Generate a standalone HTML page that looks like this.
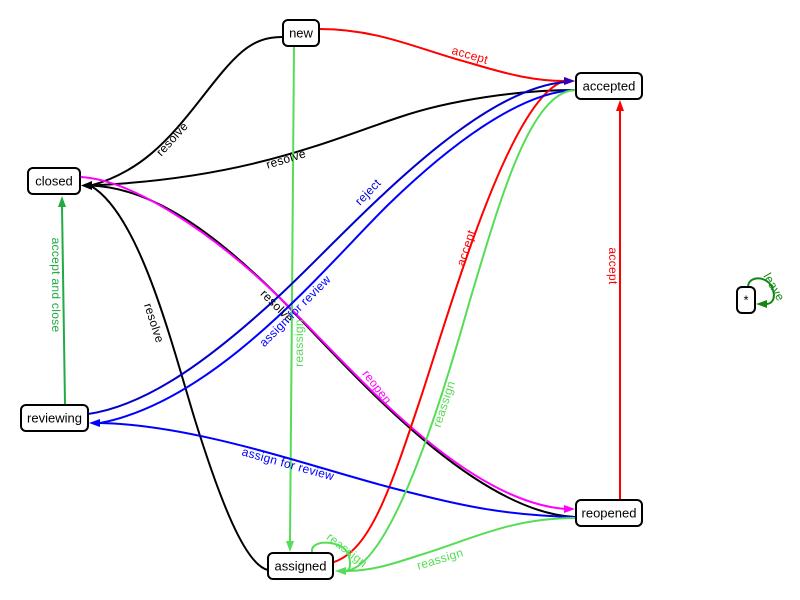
<!DOCTYPE html>
<html><head><meta charset="utf-8"><style>
html,body{margin:0;padding:0;background:#fff;}
svg{display:block;}
text{font-family:"Liberation Sans",sans-serif;}
.lbl{font-size:12px;text-anchor:middle;dominant-baseline:central;letter-spacing:0.3px;}
.nd{font-size:13px;text-anchor:middle;dominant-baseline:central;fill:#000;}
.e{fill:none;stroke-width:2;}
</style></head><body>
<svg width="800" height="600" viewBox="0 0 800 600" xmlns="http://www.w3.org/2000/svg">
<rect width="800" height="600" fill="#fff"/>
<!-- black resolve edges -->
<path class="e" stroke="#000" d="M282,37 C250,37 235,55 200,100 C168,141 140,172 91,185.5"/>
<path class="e" stroke="#000" d="M575,90 C520,90 450,100 400,117 C330,140 250,178 91,185.5"/>
<path class="e" stroke="#000" d="M575,517 C472,512 350,370 280,298 C210,228 150,188 91,185.5"/>
<path class="e" stroke="#000" d="M268,570 C245,565 220,500 195,420 C172,345 140,215 91,186"/>
<polygon points="81,185.5 92,181 92,190" fill="#000"/>
<!-- magenta reopen -->
<path class="e" stroke="#ff00ff" d="M80,177 C130,179 210,230 280,298 C350,366 460,500 565,509"/>
<polygon points="575,509 564,505 564,513" fill="#ff00ff"/>
<!-- red accept new->accepted -->
<path class="e" stroke="#ff0000" d="M319,29 C380,29 420,50 470,63 C510,75 535,81 565,81"/>
<!-- red accept assigned->accepted -->
<path class="e" stroke="#ff0000" d="M334,562 C370,550 390,490 420,400 C450,310 510,95 565,81"/>
<polygon points="575,81 564,77 564,85" fill="#ff0000"/>
<!-- red vertical reopened->accepted -->
<path class="e" stroke="#ff0000" d="M620,500 L620,110"/>
<polygon points="620,100 616,111 624,111" fill="#ff0000"/>
<!-- green new->assigned -->
<path class="e" stroke="#55dd55" d="M294,46 C293,200 291,400 290,542"/>
<polygon points="290,552 286,541 294,541" fill="#55dd55"/>
<!-- dark blue reject reviewing->accepted -->
<path class="e" stroke="#0000cc" d="M88,414 C150,405 215,355 280,295 C345,235 470,90 565,82"/>
<polygon points="575,81 564,77 564,85" fill="#3300bb"/>
<!-- blue accepted->reviewing -->
<path class="e" stroke="#0000ff" d="M575,90 C520,92 450,145 390,203 C330,261 220,400 100,423"/>
<!-- blue reopened->reviewing -->
<path class="e" stroke="#0000ff" d="M575,517 C500,515 460,505 400,490 C320,470 200,425 100,423"/>
<polygon points="89,423 100,419 100,427" fill="#0000ff"/>
<!-- green accepted->assigned -->
<path class="e" stroke="#55dd55" d="M575,90 C530,92 500,200 470,300 C450,370 395,565 346,571"/>
<!-- green reopened->assigned -->
<path class="e" stroke="#55dd55" d="M575,518 C510,518 470,540 420,555 C390,565 370,571 346,571"/>
<!-- green self loop assigned -->
<path class="e" stroke="#55dd55" d="M312,552 C310,538 345,540 349,556 C351,566 350,570 346,571"/>
<polygon points="335,571 346,567 346,575" fill="#55dd55"/>
<!-- accept and close -->
<path class="e" stroke="#22aa44" d="M65,405 L62,206"/>
<polygon points="62,196 58,207 66,207" fill="#22aa44"/>
<!-- leave loop -->
<path class="e" stroke="#118811" d="M748,287 C748,275 769,275 773,290 C776,300 771,304 766,304"/>
<polygon points="756,304 767,300 767,308" fill="#118811"/>

<!-- labels -->
<text class="lbl" fill="#000" transform="translate(172,139) rotate(-48)">resolve</text>
<text class="lbl" fill="#000" transform="translate(286,159) rotate(-17)">resolve</text>
<text class="lbl" fill="#000" transform="translate(277,306) rotate(45)">resolve</text>
<text class="lbl" fill="#000" transform="translate(154,323) rotate(72)">resolve</text>
<text class="lbl" fill="#ff0000" transform="translate(470,55) rotate(16)">accept</text>
<text class="lbl" fill="#ff0000" transform="translate(466,248) rotate(-72)">accept</text>
<text class="lbl" fill="#ff0000" transform="translate(613,266) rotate(90)">accept</text>
<text class="lbl" fill="#55dd55" transform="translate(299,343) rotate(-90)">reassign</text>
<text class="lbl" fill="#55dd55" transform="translate(444,404) rotate(-72)">reassign</text>
<text class="lbl" fill="#55dd55" transform="translate(440,559) rotate(-17)">reassign</text>
<text class="lbl" fill="#55dd55" transform="translate(347,550) rotate(38)">reassign</text>
<text class="lbl" fill="#0000cc" transform="translate(368,192) rotate(-46)">reject</text>
<text class="lbl" fill="#0000ff" transform="translate(295,311) rotate(-45)">assign for review</text>
<text class="lbl" fill="#0000ff" transform="translate(288,464) rotate(15.5)">assign for review</text>
<text class="lbl" fill="#ff00ff" transform="translate(377,387) rotate(52)">reopen</text>
<text class="lbl" fill="#22aa44" transform="translate(56,285) rotate(90)">accept and close</text>
<text class="lbl" fill="#118811" transform="translate(774,287) rotate(60)">leave</text>

<!-- nodes -->
<g fill="#fff" stroke="#000" stroke-width="2">
<rect x="283" y="20" width="36" height="26" rx="5"/>
<rect x="28" y="168" width="52" height="26" rx="5"/>
<rect x="576" y="73" width="66" height="26" rx="5"/>
<rect x="21" y="405" width="67" height="26" rx="5"/>
<rect x="268" y="553" width="65" height="26" rx="5"/>
<rect x="576" y="500" width="66" height="26" rx="5"/>
<rect x="737" y="287" width="18" height="26" rx="5"/>
</g>
<text class="nd" x="301" y="33">new</text>
<text class="nd" x="54" y="181">closed</text>
<text class="nd" x="609" y="86">accepted</text>
<text class="nd" x="54.5" y="418">reviewing</text>
<text class="nd" x="300.5" y="566">assigned</text>
<text class="nd" x="609" y="513">reopened</text>
<text class="nd" x="746" y="300">*</text>
</svg>
</body></html>
